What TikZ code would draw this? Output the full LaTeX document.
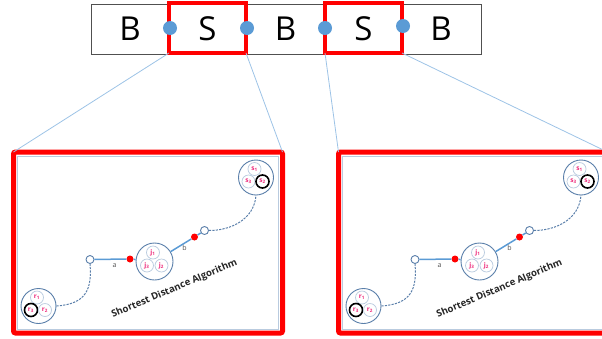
\documentclass[tikz,border=0pt]{standalone}
\usepackage{fontspec}
\setmainfont{Open Sans}
\usetikzlibrary{calc}
\definecolor{sred}{HTML}{FF0000}
\definecolor{dotblue}{HTML}{5B9BD5}
\definecolor{linkblue}{HTML}{9DC3E6}
\definecolor{ringblue}{HTML}{5A7FAA}
\definecolor{paleblue}{HTML}{B9CBDF}
\definecolor{tagpink}{HTML}{EE2A7B}
\definecolor{barline}{HTML}{505050}
\begin{document}
\begin{tikzpicture}[x=1pt,y=-1pt,
  letter/.style={font=\fontsize{33}{33}\selectfont},
  sbox/.style={draw=sred,line width=4,minimum width=77,minimum height=50,inner sep=0,outer sep=0},
  joint/.style={circle,fill=dotblue,inner sep=0,minimum size=14},
  frame/.style={draw=sred,line width=5,rounded corners=2,minimum width=269,minimum height=181,inner sep=0,outer sep=0},
  link/.style={draw=linkblue,line width=0.8},
  cluster/.style={circle,draw=ringblue,fill=white,line width=0.9,minimum size=#1,inner sep=0},
  member/.style={circle,draw=paleblue,line width=0.7,minimum size=13,inner sep=0,
    text=tagpink,font=\fontsize{6.5}{6.5}\selectfont\bfseries},
  picked/.style={member,draw=black,line width=1.6},
  port/.style={circle,draw=ringblue,fill=white,line width=0.9,minimum size=8,inner sep=0},
  hit/.style={circle,fill=sred,inner sep=0,minimum size=7},
  edge/.style={draw=dotblue,line width=1.5},
  route/.style={draw=ringblue,line width=1,dash pattern=on 2.2pt off 1.2pt},
  tag/.style={font=\fontsize{7}{7}\selectfont,text=barline},
]
\useasboundingbox (0,0) rectangle (602,338);

% the B/S strip
\node[draw=barline,line width=0.8,minimum width=390,minimum height=50,inner sep=0] (bar) at (286,29) {};
\node[letter] (b1) at (130,29) {B};
\node[letter] (s1) at (207.5,29) {S};
\node[letter] (b2) at (285.5,29) {B};
\node[letter] (s2) at (363.5,29) {S};
\node[letter] (b3) at (441,29) {B};
\node[sbox] (S1) at (207.5,28) {};
\node[sbox] (S2) at (363.5,28) {};
\node[joint] (j1) at (170,28) {};
\node[joint] (j2) at (247,28) {};
\node[joint] (j3) at (325,28) {};
\node[joint] (j4) at (403,26) {};

% two zoomed panels, identical content
\foreach \p/\dx in {L/0,R/325}{
  \begin{scope}[xshift=\dx pt]
    \node[frame] (f\p) at (148,242.5) {};
    \draw[paleblue,line width=0.6] (17.5,156) rectangle (278.5,329);
    % start cluster
    \node[cluster=35] (r\p) at (38.5,306) {};
    \node[member] (r1\p) at ($(38.5,306)+(-1.5,-8.5)$) {r\textsubscript{1}};
    \node[picked] (r3\p) at ($(38.5,306)+(-7.5,4)$) {r\textsubscript{3}};
    \node[member] (r2\p) at ($(38.5,306)+(6.5,4)$) {r\textsubscript{2}};
    % middle cluster
    \node[cluster=37] (j\p) at (154.5,261.5) {};
    \node[member] (j1\p) at ($(154.5,261.5)+(-1.5,-9)$) {j\textsubscript{1}};
    \node[member] (j3\p) at ($(154.5,261.5)+(-7.5,4)$) {j\textsubscript{3}};
    \node[member] (j2\p) at ($(154.5,261.5)+(7,4)$) {j\textsubscript{2}};
    % end cluster
    \node[cluster=35] (s\p) at (256,177.5) {};
    \node[member] (s1\p) at ($(256,177.5)+(-1.5,-8.5)$) {s\textsubscript{1}};
    \node[member] (s3\p) at ($(256,177.5)+(-7.5,4)$) {s\textsubscript{3}};
    \node[picked] (s2\p) at ($(256,177.5)+(6.5,4)$) {s\textsubscript{2}};
    % ports and hits
    \node[port] (oL\p) at (90,259.5) {};
    \node[hit] (dL\p) at (130,259) {};
    \node[hit] (dR\p) at (194.5,237) {};
    \node[port] (oR\p) at (204.5,230.5) {};
    \draw[edge] (oL\p) -- (dL\p) -- (j\p);
    \draw[edge] (j\p) -- (dR\p) -- (oR\p);
    \node[tag] (a\p) at (114.5,265.5) {a};
    \node[tag] (bl\p) at (184.5,247.5) {b};
    \draw[route] (r\p.east) .. controls +(30,-2) and +(2,25) .. (oL\p.south);
    \draw[route] (oR\p.east) .. controls +(22,0) and +(-2,24) .. (s\p.south);
    \node[rotate=23,font=\fontsize{9.6}{9.6}\selectfont\bfseries,text=black!85] (alg\p) at (174.5,289) {Shortest Distance Algorithm};
  \end{scope}
}

% zoom lines from the S boxes to the panels
\draw[link] (S1.south west) -- (fL.north west);
\draw[link] (S1.south east) -- (fL.north east);
\draw[link] (S2.south west) -- (fR.north west);
\draw[link] (S2.south east) -- (fR.north east);
\end{tikzpicture}
\end{document}
